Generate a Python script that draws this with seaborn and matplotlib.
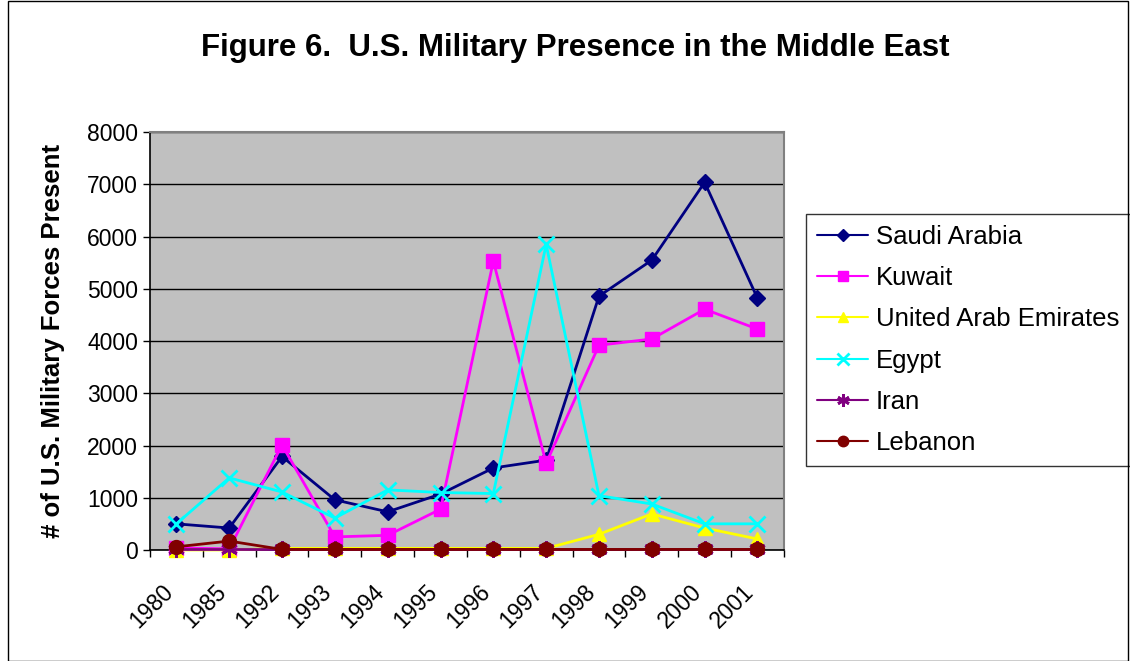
import matplotlib
matplotlib.use("Agg")
import matplotlib.pyplot as plt
import matplotlib.patches as mpatches
import matplotlib.transforms as mtransforms
import seaborn as sns
import numpy as np
import pandas as pd

# Data
years = ["1980", "1985", "1992", "1993", "1994", "1995",
         "1996", "1997", "1998", "1999", "2000", "2001"]
saudi_arabia = [500, 420, 1790, 960, 730, 1070, 1570, 1720, 4860, 5550, 7040, 4820]
kuwait = [40, 20, 2010, 250, 280, 780, 5530, 1660, 3920, 4040, 4610, 4230]
uae = [0, 0, 30, 30, 30, 30, 30, 30, 300, 690, 420, 210]
egypt = [500, 1380, 1110, 610, 1150, 1100, 1080, 5850, 1040, 880, 500, 500]
iran = [20, 20, 20, 20, 20, 20, 20, 20, 20, 20, 20, 20]
lebanon = [60, 170, 10, 10, 10, 10, 10, 10, 10, 10, 10, 10]

countries = ["Saudi Arabia", "Kuwait", "United Arab Emirates", "Egypt", "Iran", "Lebanon"]
series = [saudi_arabia, kuwait, uae, egypt, iran, lebanon]
colors = ["#000080", "#FF00FF", "#FFFF00", "#00FFFF", "#800080", "#800000"]
markers = ["D", "s", "^", "x", (6, 2, 0), "o"]
msizes = [8.5, 9.5, 10, 12, 12, 10]

frames = []
for name, vals in zip(countries, series):
    frames.append(pd.DataFrame({"pos": np.arange(len(years)), "value": vals, "country": name}))
df = pd.concat(frames, ignore_index=True)

sns.set_style("white")
plt.rcParams["font.family"] = ["Liberation Sans", "DejaVu Sans"]
plt.rcParams["text.color"] = "black"
plt.rcParams["axes.labelcolor"] = "black"
plt.rcParams["xtick.color"] = "black"
plt.rcParams["ytick.color"] = "black"

fig = plt.figure(figsize=(11.3, 6.61), dpi=100)
ax = fig.add_axes([0.1327, 0.168, 0.561, 0.632])
ax.set_facecolor("#C0C0C0")

for name, col, mk, ms in zip(countries, colors, markers, msizes):
    sub = df[df["country"] == name]
    sns.lineplot(data=sub, x="pos", y="value", color=col, marker=mk,
                 markersize=ms, markeredgecolor=col, markerfacecolor=col,
                 markeredgewidth=2 if mk in ("x", (6, 2, 0)) else 1,
                 linewidth=2, label=name, ax=ax, zorder=3, clip_on=False)

ax.set_xlim(-0.5, len(years) - 0.5)
ax.set_ylim(0, 8000)
ax.set_yticks(np.arange(0, 8001, 1000))
ax.tick_params(axis="y", labelsize=16.5, direction="out", length=5, width=1, left=True)
ax.yaxis.grid(True, color="black", linewidth=1)
ax.set_axisbelow(True)

ax.set_xticks(np.arange(len(years)))
ax.set_xticklabels(years, rotation=45, ha="right", rotation_mode="anchor", fontsize=16.5)
ax.tick_params(axis="x", length=0, pad=22)
ax.set_xticks(np.arange(-0.5, len(years)), minor=True)
ax.tick_params(axis="x", which="minor", direction="out", length=5, width=1, bottom=True)
# nudge the rotated year labels a little to the left, like the original
shift = mtransforms.ScaledTranslation(-0.15, 0, fig.dpi_scale_trans)
for lbl in ax.get_xticklabels():
    lbl.set_transform(lbl.get_transform() + shift)

ax.set_xlabel("")
ax.set_ylabel("# of U.S. Military Forces Present", fontsize=18.5, fontweight="bold", labelpad=16)

for side in ["top", "right"]:
    ax.spines[side].set_color("#808080")
    ax.spines[side].set_linewidth(1.5)
for side in ["left", "bottom"]:
    ax.spines[side].set_color("black")
    ax.spines[side].set_linewidth(1.2)

handles, labels = ax.get_legend_handles_labels()
leg = ax.legend(handles, labels, loc="upper left", bbox_to_anchor=(1.035, 0.804), borderaxespad=0,
                fontsize=18.5, frameon=True, fancybox=False, edgecolor="black", handlelength=2.0,
                borderpad=0.42, labelspacing=0.67, handletextpad=0.3, markerscale=0.75)
leg.get_frame().set_linewidth(1)
for line in leg.get_lines():
    line.set_linewidth(1.5)

fig.text(0.509, 0.927, "Figure 6.  U.S. Military Presence in the Middle East",
         ha="center", va="center", fontsize=22.5, fontweight="bold")

fig.patches.append(mpatches.Rectangle((0.007, 0.0), 0.991, 0.999, transform=fig.transFigure,
                                      fill=False, edgecolor="black", linewidth=1))

fig.savefig("out.png", dpi=100)
